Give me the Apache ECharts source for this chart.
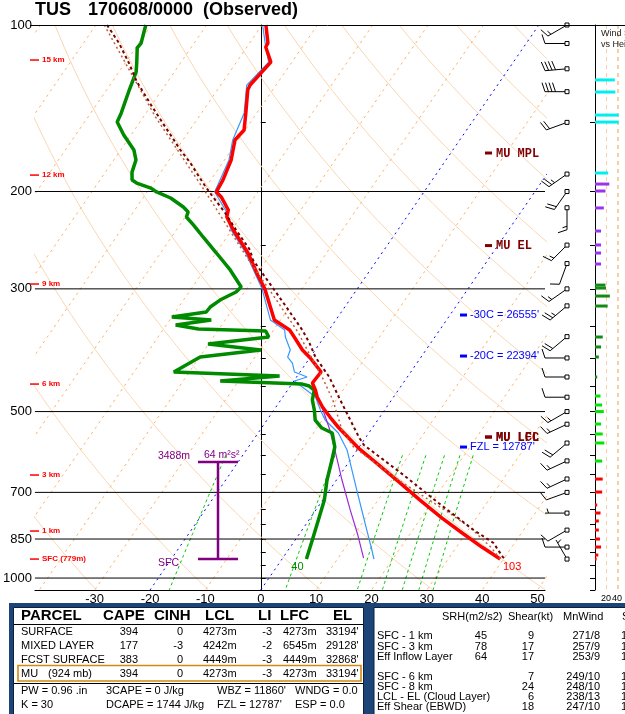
<!DOCTYPE html>
<html><head><meta charset="utf-8">
<script src="https://cdn.jsdelivr.net/npm/echarts@6/dist/echarts.min.js"></script>
<style>html,body{margin:0;padding:0;background:#fff;overflow:hidden}#c{width:625px;height:714px}</style>
</head><body><div id="c"></div>
<script>
// ================= DATA =================
const TEMP_P = [100,107.8,109.6,116.7,117.5,128.4,131.1,144.2,154.8,161.4,175.4,190.7,200.4,204.6,216,222.4,234.8,244.8,258.4,283.2,300,341.6,356.1,366.6,387,400,424,433,444,457,470.6,490.6,511.5,535.5,558.3,582,617,670,722,779,829,879,924];
const TEMP_C = [-69.3,-66.7,-66.6,-63.8,-63.4,-64.7,-64.5,-62.0,-60.2,-60.6,-58.8,-57.8,-57.5,-56.0,-53.1,-52.5,-49.7,-47.3,-44.2,-39.7,-36.7,-31.1,-27.1,-25.4,-22.3,-19.9,-16.2,-16.3,-16.4,-15.0,-13.8,-11.6,-9.0,-6.0,-3.0,0.0,4.8,11.5,17.5,23.8,29.3,34.6,39.4];
const DWPT_P = [100,107.8,110,117.2,121.6,131.1,144.2,149.8,158.1,168.3,175.4,184.5,190.7,193.1,197.2,200.4,205.5,213.3,217.8,222.4,230,241.7,258.4,277.3,297.7,304,314.3,323.5,330.3,337.3,341.6,348.8,354.6,357.6,366.6,377.5,387,398.4,424.1,431.2,440.3,445.9,449.6,457.1,476.5,496.7,517.9,535.5,546.7,579.6,611.8,664.9,722.6,785.2,853.5,924];
const DWPT_C = [-91.0,-89.6,-89.7,-87.9,-86.9,-85.9,-84.5,-84.1,-81.3,-77.6,-76.0,-75.2,-74.2,-73.0,-69.8,-68.3,-65.0,-61.6,-60.1,-59.8,-57.5,-54.3,-49.9,-45.3,-41.2,-41.5,-43.4,-44.3,-44.4,-50.0,-42.5,-48.3,-43.7,-31.3,-30.0,-40.1,-29.8,-39.9,-42.8,-23.2,-33.3,-18.1,-16.6,-15.2,-14.3,-12.7,-11.3,-9.1,-6.6,-4.4,-3.3,-1.7,0.3,1.7,3.1,4.4];
const WETB_P = [100,107.8,116.7,128.4,144.2,161.4,175.4,200.4,216,234.8,258.4,300,341.6,356.1,366.6,387,398.4,408.5,424.1,433,440.3,470.6,496.7,517.9,546.7,586.9,693,753.3,818.8,889.8,924];
const WETB_C = [-69.9,-67.2,-64.2,-65.3,-62.3,-61.0,-59.2,-57.8,-53.6,-50.1,-44.6,-37.2,-31.8,-28.0,-27.0,-24.5,-24.1,-22.5,-21.0,-18.1,-19.9,-14.1,-11.6,-9.5,-5.5,-1.8,4.9,8.3,11.7,15.1,16.6];
const DCAPE_P = [492.6,540,586.9,664.9,753,836,920];
const DCAPE_C = [-11.5,-7.4,-4.0,1.0,6.2,10.7,14.6];
const PCL_P = [100,107.8,117.2,126.8,139.5,146.7,168.3,177.6,193.1,201.3,218.7,234.8,255.2,266.1,314.3,356.1,375.9,398.4,433,470.6,511.5,555.9,574.7,651.2,737.8,785.2,818.8,864.2,915.9,924];
const PCL_C = [-98.0,-93.6,-89.3,-85.5,-80.1,-77.2,-69.2,-65.8,-61.0,-58.5,-53.3,-49.2,-44.2,-42.4,-32.3,-24.8,-21.9,-19.1,-14.1,-9.9,-5.6,-1.3,0.6,11.5,22.0,27.4,31.0,36.2,39.6,40.4];
const PCL2_P = [100,146.7,201.3,266.1,314.3,360.6,382.1,433,476.5,540,579.6,670.5,759.6,812,878.9,924];
const PCL2_C = [-98.5,-77.8,-59.2,-43.2,-33.2,-25.1,-22.1,-15.4,-10.6,-5.2,-1.0,12.0,24.1,30.2,36.2,39.4];

const WIND_P   = [100,108,120,132,150,186,200,214,250,270,300,322,366,400,433,471,500,527,570,614,662,700,763,819,879,924];
const WIND_DIR = [240,270,265,270,250,235,215,180,225,200,235,230,230,270,270,270,240,245,230,245,245,250,270,240,270,330];
const WIND_KT  = [15,10,40,40,20,25,20,15,15,10,15,25,20,10,10,10,15,15,20,15,15,10,5,10,10,5];

const SPD_P  = [125.7,132.2,145.5,149.8,185.2,193.9,199.6,214.2,235.8,249.9,258.4,270.5,295.3,299.0,309.1,322.2,366.6,382.1,398.4,433,468.7,486.5,500,526.6,548.9,569.9,614.4,662.2,699,737.8,762.8,788.5,818.8,850,878.9,908.6,923.6];
const SPD_KT = [36,37,43,43,24,26,19,16,11,11,11,11,19,20,27,23,14,11,7,4,10,13,16,11,14,17,13,14,13,4,10,7,7,9,11,6,3];

const P_LABELS = [100,200,300,500,700,850,1000];
const P_LINES  = [200,300,500,700,850,1000];
const P_TICKS  = [100,150,200,250,300,350,400,450,500,550,600,650,700,750,800,850,900,950,1000,1050];
const T_LABELS = [-30,-20,-10,0,10,20,30,40,50];
const ISOTHERMS = [-110,-100,-90,-80,-70,-60,-50,-40,-30,-20,-10,0,10,20,30,40,50];
const BLUE_ISOTHERMS = [-20,0];
const THETAS = [240,260,280,300,320,340,360,380,400,420,440,460,480];
const MIXRATIOS = [1,5,12,16,20,24,28];

const HEIGHT_LABELS = ['15 km','12 km','9 km','6 km','3 km','1 km','SFC (779m)'];
const HEIGHT_P = [115.7,186.8,294,445.9,651.2,822.2,924];

const MU_LABELS = ['MU MPL','MU EL','MU LCL','MU LFC'];
const MU_LABEL_P = [170.4,250.5,555.9,555.9];
const ISO_LABELS = ["-30C = 26555'","-20C = 22394'","FZL = 12787'"];
const ISO_LABEL_P = [334.5,396.8,579.6];

const EFF_TOP_P = 617, EFF_BOT_P = 924;
const EFF_TOP_TXT = '3488m', EFF_SRH_TXT = '64 m\u00b2s\u00b2', EFF_BOT_TXT = 'SFC';
const SFC_P = 924, SFC_T_C = 39.4, SFC_TD_C = 4.4, SFC_T_F = 103, SFC_TD_F = 40;

const TITLE = ['TUS','170608/0000','(Observed)'];

const PCL_HEAD = ['PARCEL','CAPE','CINH','LCL','LI','LFC','EL'];
const PCL_NAMES = ['SURFACE','MIXED LAYER','FCST SURFACE','MU'];
const MU_EXTRA = '(924 mb)';
const PCL_CAPE = [394,177,383,394];
const PCL_CINH = [0,-3,0,0];
const PCL_LCL = ['4273m','4242m','4449m','4273m'];
const PCL_LI = [-3,-2,-3,-3];
const PCL_LFC = ['4273m','6545m','4449m','4273m'];
const PCL_EL = ["33194'","29128'","32868'","33194'"];
const STATS_1 = ['PW = 0.96 .in','3CAPE = 0 J/kg',"WBZ = 11860'",'WNDG = 0.0'];
const STATS_2 = ['K = 30','DCAPE = 1744 J/kg',"FZL = 12787'",'ESP = 0.0'];

const KIN_HEAD = ['SRH(m2/s2)','Shear(kt)','MnWind','S'];
const KIN_NAMES = ['SFC - 1 km','SFC - 3 km','Eff Inflow Layer','SFC - 6 km','SFC - 8 km','LCL - EL (Cloud Layer)','Eff Shear (EBWD)'];
const KIN_SRH = ['45','78','64','','','',''];
const KIN_SHEAR = ['9','17','17','7','24','6','18'];
const KIN_MNWIND = ['271/8','257/9','253/9','249/10','248/10','238/13','247/10'];
const KIN_SRW_CUT = ['1','1','1','1','1','1','1'];

// ================= RENDER =================
const FONT = '"Liberation Sans", Arial, sans-serif';
const MONO = '"Liberation Mono", "DejaVu Sans Mono", monospace';
const PB = 1051, SKEW = 68.75, LPB = Math.log10(PB);
const XMIN = -40.79, XMAX = 51.34;
function sk(t, p){ const lp = Math.log10(p); return [t + SKEW*(LPB-lp), lp]; }
function prof(P, T){ return P.map((p,i)=>sk(T[i], p)); }
function L(data, color, width, type, z){
  return {type:'line', xAxisIndex:0, yAxisIndex:0, data, showSymbol:false, symbol:'none', silent:true, z:z,
    lineStyle:{color, width, type}, animation:false};
}
const series = [];
THETAS.forEach(th=>{ const d=[]; for(let p=100;p<=1050;p+=5){ d.push(sk(th*Math.pow(p/1000,0.2857)-273.15,p)); } d.push(sk(th*Math.pow(PB/1000,0.2857)-273.15,PB)); series.push(L(d,'#fad6b2',1,'solid',1)); });
ISOTHERMS.forEach(t=>{ const blue = BLUE_ISOTHERMS.includes(t); series.push(L([sk(t,100),sk(t,PB)], blue?'#0000ff':'#ffb166', 1, blue?[2,4]:[2.5,4], 1)); });
MIXRATIOS.forEach(w=>{ const d=[]; const ps=[]; for(let p=600;p<=1050;p+=10) ps.push(p); ps.push(PB);
  ps.forEach(p=>{ const e=w*p/(622+w); const a=Math.log(e/6.112); d.push(sk(243.5*a/(17.67-a),p)); });
  series.push(L(d,'#00c800',1,[3,3],1)); });
P_LINES.forEach(p=>series.push(L([[XMIN,Math.log10(p)],[XMAX,Math.log10(p)]],'#000',1,'solid',2)));

series.push(L(prof(WETB_P,WETB_C),'#3399ff',1.2,'solid',3));
series.push(L(prof(DCAPE_P,DCAPE_C),'#9a2bd8',1.2,'solid',3));
series.push(L(prof(DWPT_P,DWPT_C),'#008a00',3.5,'solid',4));
series.push(L(prof(TEMP_P,TEMP_C),'#ff0000',3.5,'solid',5));
series.push(L(prof(PCL2_P,PCL2_C),'#c0603a',1.5,[2,3],6));
series.push(L(prof(PCL_P,PCL_C),'#7a0000',2,[3,3],6));

// wind barbs
const BARB_X = 567;
series.push({type:'custom', xAxisIndex:0, yAxisIndex:0, clip:false, silent:true, z:8,
  data: WIND_P.map((p,i)=>[0, Math.log10(p), WIND_DIR[i], WIND_KT[i]]),
  encode:{x:0,y:1},
  renderItem:(params, api)=>{
    const cy = api.coord([0, api.value(1)])[1];
    const cx = BARB_X;
    const r = api.value(2)*Math.PI/180;
    const ux = Math.sin(r), uy = -Math.cos(r);
    const px = -uy, py = ux;
    const Ls = 22;
    const ex = cx + Ls*ux, ey = cy + Ls*uy;
    const ch = [];
    const st = {stroke:'#000', lineWidth:1};
    ch.push({type:'line', shape:{x1:cx,y1:cy,x2:ex,y2:ey}, style:st});
    let rem = Math.round(api.value(3)/5)*5; let pos = 0;
    while(rem>=50){ const bx=ex-pos*ux, by=ey-pos*uy; const cx2=ex-(pos+5)*ux, cy2=ey-(pos+5)*uy;
      ch.push({type:'polygon', shape:{points:[[bx,by],[bx+9*px,by+9*py],[cx2,cy2]]}, style:{fill:'#000'}}); pos+=6; rem-=50; }
    while(rem>=10){ const bx=ex-pos*ux, by=ey-pos*uy;
      ch.push({type:'line', shape:{x1:bx,y1:by,x2:bx+9*px+3*ux,y2:by+9*py+3*uy}, style:st}); pos+=3.5; rem-=10; }
    if(rem>=5){ if(pos===0) pos=3.5; const bx=ex-pos*ux, by=ey-pos*uy;
      ch.push({type:'line', shape:{x1:bx,y1:by,x2:bx+4.5*px+1.5*ux,y2:by+4.5*py+1.5*uy}, style:st}); }
    ch.push({type:'rect', shape:{x:cx-2,y:cy-2,width:4,height:4}, style:{fill:'#fff', stroke:'#000', lineWidth:1}});
    return {type:'group', children:ch};
  }});

// wind speed vs height bars
function bandColor(p){
  if(p>HEIGHT_P[4]) return '#ff0000';
  if(p>HEIGHT_P[3]) return '#00e600';
  if(p>HEIGHT_P[2]) return '#138a13';
  if(p>HEIGHT_P[1]) return '#9933ee';
  return '#00eeee';
}
series.push({type:'custom', xAxisIndex:1, yAxisIndex:1, clip:false, silent:true, z:5,
  data: SPD_P.map((p,i)=>[SPD_KT[i], Math.log10(p)]), encode:{x:0,y:1},
  renderItem:(params, api)=>{
    const lp = api.value(1); const c0 = api.coord([0, lp]); const c1 = api.coord([api.value(0), lp]);
    return {type:'rect', shape:{x:c0[0], y:c0[1]-1.5, width:c1[0]-c0[0], height:3}, style:{fill:bandColor(Math.pow(10,lp))}};
  }});

const chart = echarts.init(document.getElementById('c'), null, {renderer:'canvas'});
chart.setOption({
  animation:false, backgroundColor:'#fff',
  grid:[{left:30, top:25, width:515, height:565}, {left:595, top:25, width:30, height:565}],
  xAxis:[
    {gridIndex:0, type:'value', min:XMIN, max:XMAX, axisLine:{show:true, onZero:false, lineStyle:{color:'#000', width:1}},
     axisTick:{show:false}, splitLine:{show:false},
     axisLabel:{customValues:T_LABELS, color:'#000', fontSize:13, fontFamily:FONT, margin:3, formatter:v=>String(Math.round(v))}},
    {gridIndex:1, type:'value', min:0, max:43, interval:20, axisLine:{show:false}, axisTick:{show:false},
     splitLine:{show:true, lineStyle:{color:'#f8cfa2', type:[4,4], width:1}},
     axisLabel:{color:'#000', fontSize:9, fontFamily:FONT, margin:4, formatter:v=>v===0?'':String(v)}}
  ],
  yAxis:[
    {gridIndex:0, type:'value', inverse:true, min:2, max:LPB, axisLine:{show:true, lineStyle:{color:'#000', width:1}},
     axisTick:{show:true, inside:true, length:5, customValues:P_TICKS.map(p=>Math.log10(p)), lineStyle:{color:'#000'}},
     splitLine:{show:false},
     axisLabel:{customValues:P_LABELS.map(p=>Math.log10(p)), color:'#000', fontSize:13, fontFamily:FONT, margin:3,
       formatter:v=>String(Math.round(Math.pow(10,v)))}},
    {gridIndex:1, type:'value', inverse:true, min:2, max:LPB, position:'left', axisLine:{show:true, lineStyle:{color:'#000', width:1}},
     axisTick:{show:true, inside:false, length:5, customValues:P_TICKS.map(p=>Math.log10(p)), lineStyle:{color:'#000'}},
     splitLine:{show:false}, axisLabel:{show:false}}
  ],
  series
});

// ================= annotations / tables =================
const G = [];
function txt(s,x,y,o){ o=o||{}; const a=o.align||'left', v=o.valign||'middle';
  G.push({type:'text', z:50, silent:true, style:{text:String(s), x, y, fill:o.color||'#000', font:o.font||('11px '+FONT),
    textAlign:a, textVerticalAlign:v, align:a, verticalAlign:v}}); }
function ln(x1,y1,x2,y2,c,w){ G.push({type:'line', z:49, silent:true, shape:{x1,y1,x2,y2}, style:{stroke:c, lineWidth:w}}); }
function rc(x,y,w,h,fill,stroke,lw){ G.push({type:'rect', z:48, silent:true, shape:{x,y,width:w,height:h}, style:{fill:fill||'none', stroke:stroke||'none', lineWidth:lw||0}}); }
const yPix = p => chart.convertToPixel({gridIndex:0}, [0, Math.log10(p)])[1];
const ptPix = (t,p) => chart.convertToPixel({gridIndex:0}, sk(t,p));

// title
txt(TITLE[0],35,10,{font:'bold 18px '+FONT});
txt(TITLE[1],88,10,{font:'bold 18px '+FONT});
txt(TITLE[2],203,10,{font:'bold 18px '+FONT});
// top border
ln(30,25.5,625,25.5,'#000',1);
// height labels
HEIGHT_LABELS.forEach((s,i)=>{ const y=yPix(HEIGHT_P[i]); ln(30,y,39,y,'#ff0000',1.5); txt(s,42,y,{color:'#ff0000',font:'bold 8px '+FONT}); });
// MU labels
MU_LABELS.forEach((s,i)=>{ const y=yPix(MU_LABEL_P[i]); ln(485,y,492,y,'#800000',3); txt(s,496,y+0.5,{color:'#800000',font:'bold 12px '+MONO}); });
ISO_LABELS.forEach((s,i)=>{ const y=yPix(ISO_LABEL_P[i]); ln(460,y,467,y,'#0000ff',3); txt(s,470,y,{color:'#0000ff',font:'11px '+FONT}); });
// effective inflow layer bar
(function(){ const yt=yPix(EFF_TOP_P), yb=yPix(EFF_BOT_P); const c='#800080';
  ln(218,yt,218,yb,c,2.5); ln(198,yt,238,yt,c,2.5); ln(198,yb,238,yb,c,2.5);
  txt(EFF_TOP_TXT,190,yt-6,{color:c,align:'right',font:'10.5px '+FONT});
  txt(EFF_SRH_TXT,204,yt-7,{color:c,font:'10.5px '+FONT});
  txt(EFF_BOT_TXT,158,yb+4,{color:c,font:'10.5px '+FONT}); })();
// surface F labels
(function(){ const a=ptPix(SFC_TD_C,SFC_P), b=ptPix(SFC_T_C,SFC_P);
  txt(String(SFC_TD_F),a[0]-9,a[1]+8,{color:'#008a00',align:'center',font:'11px '+FONT});
  txt(String(SFC_T_F),b[0]+12,b[1]+8,{color:'#ff0000',align:'center',font:'11px '+FONT}); })();
// wind speed panel title
txt('Wind Speed',601,33.5,{color:'#222',font:'9px '+FONT});
txt('vs Height',601,45,{color:'#222',font:'9px '+FONT});

// tables
const NAVY='#1d4477';
rc(9,603,616,111,NAVY);
rc(13.5,607.5,350,107,'#fff','#0b2040',1);
rc(374,607.5,252,107,'#fff','#0b2040',1);
const HB='bold 15px '+FONT, TF='11px '+FONT;
const HX=[21,103,154,205,258,280,333];
PCL_HEAD.forEach((s,i)=>txt(s,HX[i],616,{font:HB}));
ln(14,624.5,363,624.5,'#000',1);
const RY=[632,646,660,673.5];
PCL_NAMES.forEach((s,i)=>{ const y=RY[i];
  txt(s,21,y,{font:TF}); if(i===3) txt(MU_EXTRA,48,y,{font:TF});
  txt(PCL_CAPE[i],138,y,{font:TF,align:'right'});
  txt(PCL_CINH[i],183,y,{font:TF,align:'right'});
  txt(PCL_LCL[i],203,y,{font:TF});
  txt(PCL_LI[i],272,y,{font:TF,align:'right'});
  txt(PCL_LFC[i],283,y,{font:TF});
  txt(PCL_EL[i],326,y,{font:TF}); });
rc(18,665.5,343,15.5,null,'#d08a10',1.6);
ln(14,683.5,363,683.5,'#000',1);
const SX=[21,106,217,295];
STATS_1.forEach((s,i)=>txt(s,SX[i],690.5,{font:TF}));
STATS_2.forEach((s,i)=>txt(s,SX[i],705,{font:TF}));
const KHX=[442,508,563,622];
KIN_HEAD.forEach((s,i)=>txt(s,KHX[i],617,{font:TF}));
const KY=[636,646.5,657,676.5,687,697,707];
KIN_NAMES.forEach((s,i)=>{ const y=KY[i];
  txt(s,377,y,{font:TF});
  if(KIN_SRH[i]) txt(KIN_SRH[i],487,y,{font:TF,align:'right'});
  txt(KIN_SHEAR[i],534,y,{font:TF,align:'right'});
  txt(KIN_MNWIND[i],600,y,{font:TF,align:'right'});
  txt(KIN_SRW_CUT[i],621,y,{font:TF}); });

chart.setOption({graphic:G});
</script></body></html>
